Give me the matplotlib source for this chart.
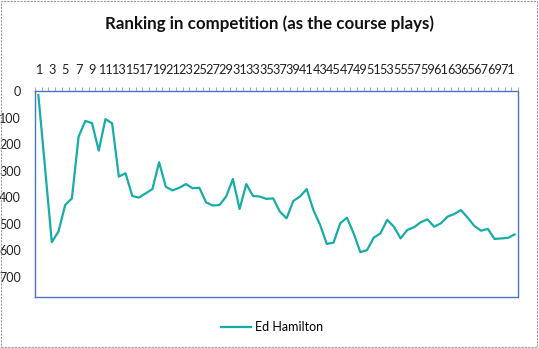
import matplotlib.pyplot as plt
from matplotlib.patches import Rectangle
import numpy as np

plt.rcParams['font.family'] = ['Lato', 'DejaVu Sans']

# ranking after each hole, in playing order
holes = list(range(1, 73))
ranking = [15, 290, 570, 530, 430, 405, 172, 113, 121, 225,
           106, 122, 323, 310, 396, 402, 386, 370, 269, 361,
           375, 365, 351, 367, 365, 420, 432, 430, 398, 332,
           445, 351, 396, 398, 407, 405, 455, 480, 415, 398,
           370, 449, 505, 577, 572, 499, 478, 537, 608, 600,
           553, 537, 486, 512, 556, 524, 514, 495, 484, 512,
           499, 474, 464, 449, 478, 509, 527, 520, 558, 556,
           554, 541]
y_ticks = [0, 100, 200, 300, 400, 500, 600, 700]
player = "Ed Hamilton"
line_color = '#17ada7'
axis_color = '#4a72c8'

fig = plt.figure(figsize=(5.39, 3.48), dpi=100)
ax = fig.add_axes([35/539, 1 - 297/348, 483/539, 206/348])

x = np.arange(len(holes))
ax.plot(x, ranking, color=line_color, lw=1.6, label=player)

ax.set_xlim(-0.5, len(holes) - 0.5)
ax.set_ylim(777, 0)   # rank 1 at the top

# category labels on top, every other hole
ax.xaxis.tick_top()
ax.set_xticks(x[::2])
ax.set_xticklabels([str(h) for h in holes[::2]], fontsize=9.2, color='#222222')
ax.set_xticks(np.arange(-0.5, len(holes)), minor=True)
ax.tick_params(axis='x', which='major', length=0, pad=11)
ax.tick_params(axis='x', which='minor', length=3, color='#999999', width=0.6)

ax.set_yticks(y_ticks)
ax.set_yticklabels([str(v) for v in y_ticks], fontsize=9, color='#222222')
ax.tick_params(axis='y', length=0, pad=10)

for side in ['left', 'right', 'top', 'bottom']:
    ax.spines[side].set_color(axis_color)
    ax.spines[side].set_linewidth(1.0)
ax.spines['top'].set_linestyle((0, (1, 1)))
ax.spines['bottom'].set_linestyle((0, (1, 1)))

fig.text(0.5, 1 - 24/348, "Ranking in competition (as the course plays)",
         ha='center', va='center', fontsize=12.2, fontweight='bold', color='#111111')

fig.legend(loc='center', bbox_to_anchor=(272/539, 1 - 327/348), frameon=False,
           fontsize=9, handlelength=2.4, handletextpad=0.3)

# dashed chart border
fig.patches.append(Rectangle((0.002, 0.003), 0.995, 0.994, transform=fig.transFigure,
                             fill=False, edgecolor='#9a9a9a', lw=0.8, ls=(0, (2, 1))))

fig.savefig('out.png', dpi=100)
